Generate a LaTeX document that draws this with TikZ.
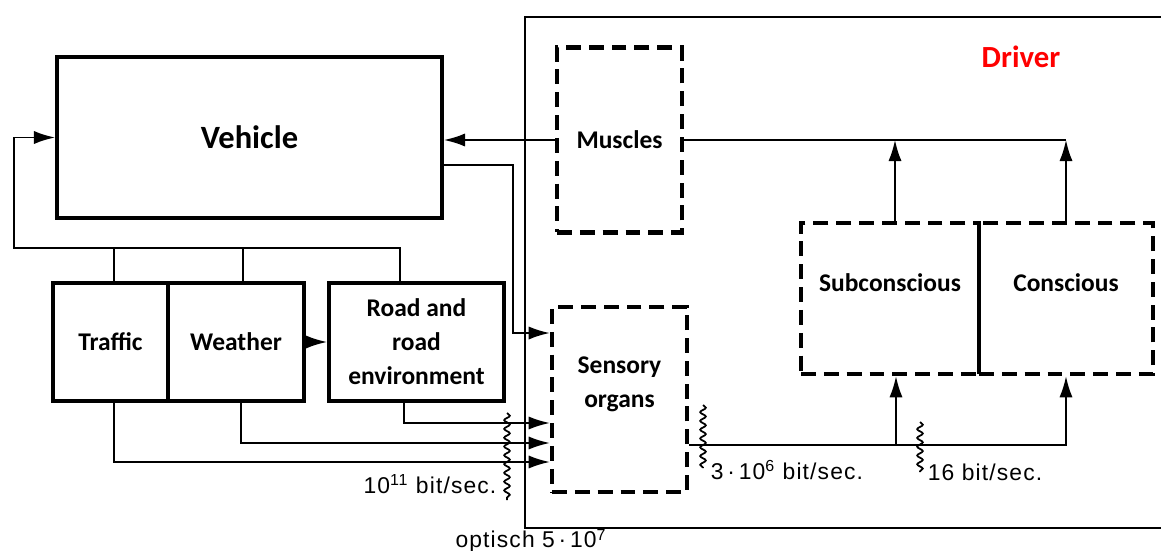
\documentclass[tikz,border=0pt]{standalone}
\usepackage{fontspec}
\setmainfont{Carlito}
\newfontfamily\ratefont[LetterSpace=5]{Liberation Sans}
\usetikzlibrary{arrows.meta,decorations.pathmorphing}

\begin{document}
\begin{tikzpicture}[x=0.02cm, y=-0.02cm,
    box/.style={draw, line width=2.3pt, inner sep=0pt, align=center, font=\bfseries\fontsize{14.5}{19.3}\selectfont},
    dbox/.style={draw, line width=2.6pt, dash pattern=on 8.5pt off 4.5pt, inner sep=0pt, align=center, font=\bfseries\fontsize{14.5}{19.3}\selectfont},
    txt/.style={align=center, font=\bfseries\fontsize{14.5}{19.3}\selectfont},
    edge/.style={line width=1pt},
    arr/.style={line width=1pt, -{Latex[length=12pt,width=7.5pt]}},
    wave/.style={line width=1pt, decorate, decoration={snake, amplitude=1.6pt, segment length=5pt}},
    rate/.style={font=\ratefont\fontsize{13}{15}\selectfont, inner sep=1pt}
]
\useasboundingbox (0,0) rectangle (1161,551);

% ---- driver frame ----
\draw[line width=1.7pt] (1170,17) -- (525,17) -- (525,528) -- (1170,528);
\node[font=\bfseries\fontsize{17.5}{20}\selectfont, text=red] (drv) at (1021,57) {Driver};

% ---- nodes ----
\node[box, minimum width=7.7cm, minimum height=3.22cm, font=\bfseries\fontsize{18.5}{22}\selectfont] (veh) at (249.5,137.5) {Vehicle};

\node[box, minimum width=2.3cm, minimum height=2.36cm] (traf) at (110.5,342) {Traffic};
\node[box, minimum width=2.72cm, minimum height=2.36cm] (weat) at (236,342) {Weather};
\node[box, minimum width=3.5cm, minimum height=2.36cm] (road) at (416.5,342) {Road and\\road\\environment};

\node[dbox, minimum width=2.5cm, minimum height=3.7cm] (mus) at (619.5,140) {Muscles};
\node[dbox, minimum width=2.7cm, minimum height=3.7cm,
      label={[txt, yshift=0.3cm]center:{Sensory\\organs}}] (sens) at (619.5,399.5) {};

\node[dbox, minimum width=3.56cm, minimum height=3.02cm,
      label={[txt, yshift=0.32cm]center:Subconscious}] (subc) at (890,298.5) {};
\node[dbox, minimum width=3.48cm, minimum height=3.02cm,
      label={[txt, yshift=0.32cm]center:Conscious}] (con) at (1066,298.5) {};

% ---- vehicle / environment loop ----
\coordinate (fbl) at (14,248);
\draw[arr] ([xshift=-0.33cm]road.north) |- (fbl) |- (veh.west);
\draw[edge] ([xshift=0.07cm]traf.north) -- ([xshift=0.07cm]traf.north |- fbl);
\draw[edge] ([xshift=0.14cm]weat.north) -- ([xshift=0.14cm]weat.north |- fbl);
\draw[arr] (weat.east) -- (road.west);

% ---- into the driver ----
\draw[arr] (mus.west) -- (veh.east |- mus.west);
\draw[arr] ([yshift=-0.55cm]veh.east) -- ++(69,0) |- ([yshift=1.33cm]sens.west);
\draw[arr] ([xshift=-0.25cm]road.south) |- ([yshift=-0.47cm]sens.west);
\draw[arr] ([xshift=0.1cm]weat.south) |- ([yshift=-0.87cm]sens.west);
\draw[arr] ([xshift=0.07cm]traf.south) |- ([yshift=-1.25cm]sens.west);

% ---- inside the driver ----
\coordinate (sline) at ([yshift=-0.91cm]sens.east);
\draw[arr] (sline) -| (con.south);
\draw[arr] ([xshift=0.12cm]subc.south |- sline) -- ([xshift=0.12cm]subc.south);
\draw[edge] (mus.east) -- (mus.east -| con.north);
\draw[arr] ([xshift=0.1cm]subc.north) -- ([xshift=0.1cm]subc.north |- mus.east);
\draw[arr] (con.north) -- (con.north |- mus.east);

% ---- channel marks ----
\draw[wave] (507,413) -- (507,500);
\draw[wave] (703,405) -- (703,468);
\draw[wave] (920,422) -- (920,472);

\node[rate] (r1) at (430,484) {10\textsuperscript{11} bit/sec.};
\node[rate] (r2) at (787,470) {3\,·\,10\textsuperscript{6} bit/sec.};
\node[rate] (r3) at (985,472) {16 bit/sec.};
\node[rate] (r4) at (531,541) {optisch 5\,·\,10\textsuperscript{7}};

\end{tikzpicture}
\end{document}
